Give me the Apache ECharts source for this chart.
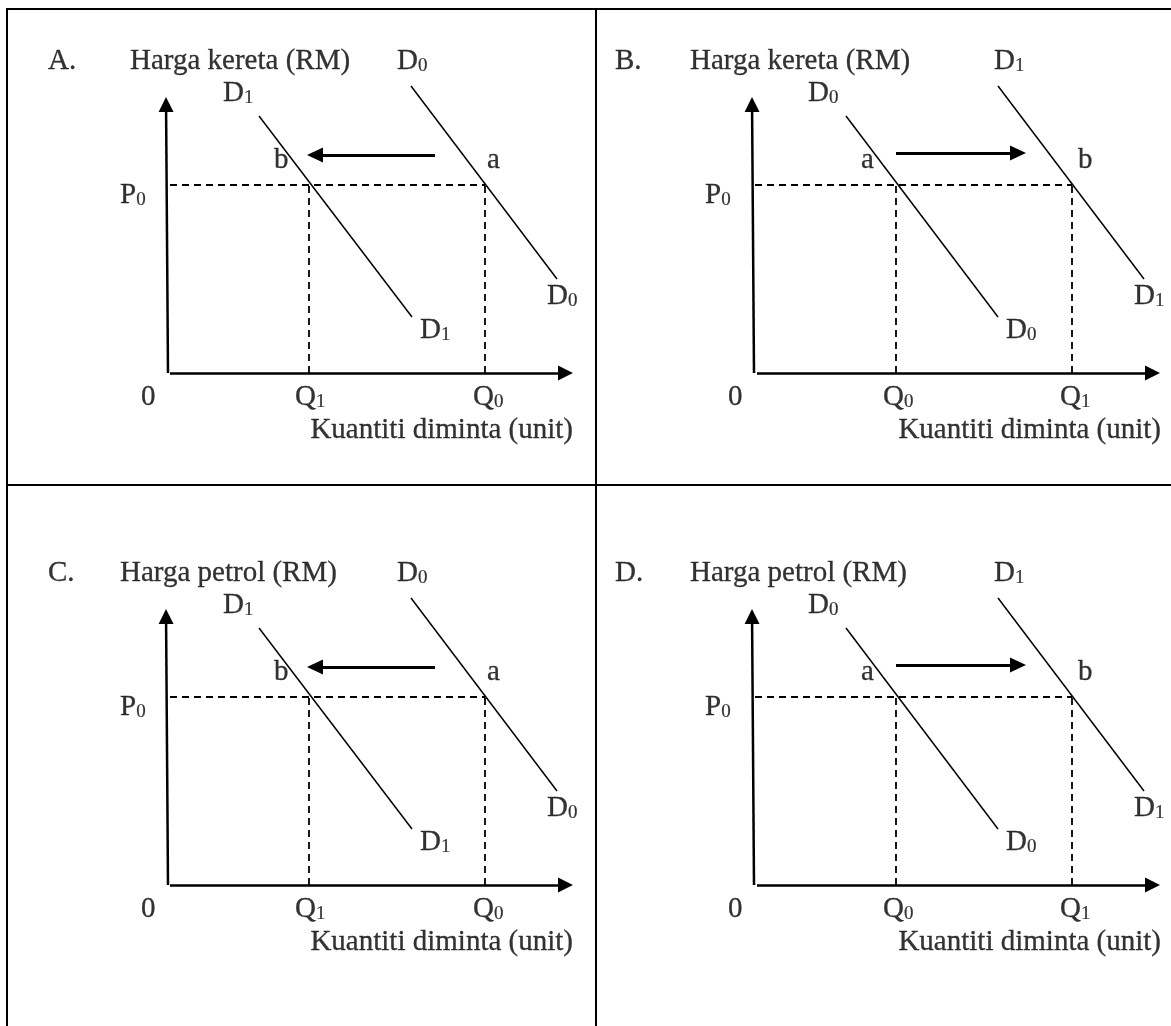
<!DOCTYPE html>
<html>
<head>
<meta charset="utf-8">
<script src="https://cdn.jsdelivr.net/npm/echarts@6/dist/echarts.min.js"></script>
<style>
html,body{margin:0;padding:0;background:#fff;}
#c{width:1171px;height:1026px;}
</style>
</head>
<body>
<div id="c"></div>
<script>
// ---------- DATA (chart units: origin of each diagram = (0,0), 1 unit ~ 1 px) ----------
const cellLetters = ['A.', 'B.', 'C.', 'D.'];
const cellTitles = ['Harga kereta (RM)', 'Harga kereta (RM)', 'Harga petrol (RM)', 'Harga petrol (RM)'];
const cellKinds = ['left', 'right', 'left', 'right'];
const letterX = [-120, -138, -120, -138];
const titleX = [-38, -63, -48, -63];
const headY = 302;
const priceP0 = 188;
const axisNameText = 'Kuantiti diminta (unit)';

// Demand shifts left (A, C)
const leftYAxis = [[0, 0], [-2, 276]];
const leftXAxis = [[2, 0], [405, 0]];
const leftD0 = [[243, 287], [389, 94]];
const leftD1 = [[91, 257], [244, 56]];
const leftQ = [141, 317];
const leftShift = [[267, 218], [139, 218]];
const leftLabels = [
  [229, 302, 'D', '0'], [55, 270, 'D', '1'], [106, 203, 'b', ''], [319, 203, 'a', ''],
  [-48, 168, 'P', '0'], [252, 33, 'D', '1'], [379, 67, 'D', '0'],
  [-27, -34, '0', ''], [127, -34, 'Q', '1'], [305, -34, 'Q', '0']
];
const leftAxisName = [405, -67];

// Demand shifts right (B, D)
const rightYAxis = [[1, 0], [-1, 276]];
const rightXAxis = [[4, 0], [407, 0]];
const rightD0 = [[93, 257], [245, 56]];
const rightD1 = [[245, 287], [391, 94]];
const rightQ = [143, 319];
const rightShift = [[143, 220], [273, 220]];
const rightLabels = [
  [241, 302, 'D', '1'], [55, 270, 'D', '0'], [108, 203, 'a', ''], [325, 203, 'b', ''],
  [-48, 168, 'P', '0'], [253, 33, 'D', '0'], [381, 67, 'D', '1'],
  [-25, -34, '0', ''], [130, -34, 'Q', '0'], [307, -34, 'Q', '1']
];
const rightAxisName = [408, -67];

// ---------- LAYOUT ----------
const cells = [
  {left: 7,   top: 9,   width: 589, height: 476, ox: 168, oy: 373},
  {left: 596, top: 9,   width: 575, height: 476, ox: 753, oy: 373},
  {left: 7,   top: 521, width: 589, height: 476, ox: 168, oy: 885},
  {left: 596, top: 521, width: 575, height: 476, ox: 753, oy: 885}
];
const FONT = "'Liberation Serif', 'Times New Roman', serif";
const rich = {
  m: {fontSize: 29, fontFamily: FONT, color: '#000', textBorderColor: '#000', textBorderWidth: 0.3},
  s: {fontSize: 19, fontFamily: FONT, color: '#000', textBorderColor: '#000', textBorderWidth: 0.2, verticalAlign: 'bottom'}
};

function tipAdjust(start, tip, len) {
  const dx = tip[0] - start[0], dy = tip[1] - start[1];
  const d = Math.hypot(dx, dy);
  return [tip[0] - dx / d * len / 2, tip[1] - dy / d * len / 2];
}

const grids = [], xAxes = [], yAxes = [], series = [];
cells.forEach((c, i) => {
  grids.push({left: c.left, top: c.top, width: c.width, height: c.height, containLabel: false, show: false});
  xAxes.push({type: 'value', gridIndex: i, min: c.left - c.ox, max: c.left + c.width - c.ox, show: false});
  yAxes.push({type: 'value', gridIndex: i, min: c.oy - (c.top + c.height), max: c.oy - c.top, show: false});

  const L = cellKinds[i] === 'left';
  const D0 = L ? leftD0 : rightD0;
  const D1 = L ? leftD1 : rightD1;
  const Q = L ? leftQ : rightQ;
  const shift = L ? leftShift : rightShift;
  const labels = L ? leftLabels : rightLabels;
  const axName = L ? leftAxisName : rightAxisName;
  const yAx = L ? leftYAxis : rightYAxis;
  const xAx = L ? leftXAxis : rightXAxis;

  const solid = {color: '#000', width: 1.5};
  const dashed = {color: '#000', width: 1.8, type: [7, 5]};
  const base = {xAxisIndex: i, yAxisIndex: i, silent: true, symbol: 'none', animation: false};

  series.push(Object.assign({type: 'line', data: D0, lineStyle: solid}, base));
  series.push(Object.assign({type: 'line', data: D1, lineStyle: solid}, base));
  const qMax = Math.max(Q[0], Q[1]);
  series.push(Object.assign({type: 'line', data: [[2, priceP0], [qMax, priceP0]], lineStyle: dashed}, base));
  Q.forEach(q => {
    series.push(Object.assign({type: 'line', data: [[q, 0], [q, priceP0]], lineStyle: dashed}, base));
  });

  const items = [];
  items.push({value: [letterX[i], headY], main: cellLetters[i], sub: ''});
  items.push({value: [titleX[i], headY], main: cellTitles[i], sub: ''});
  labels.forEach(l => items.push({value: [l[0], l[1]], main: l[2], sub: l[3]}));
  items.push({value: [axName[0], axName[1]], main: axisNameText, sub: '', label: {align: 'right'}});

  series.push({
    type: 'scatter', xAxisIndex: i, yAxisIndex: i, silent: true, animation: false,
    symbolSize: 1, itemStyle: {color: 'rgba(0,0,0,0)'},
    label: {
      show: true, position: 'inside', align: 'left', verticalAlign: 'middle', offset: [0, -10],
      color: '#000',
      formatter: p => '{m|' + p.data.main + '}' + (p.data.sub ? '{s|' + p.data.sub + '}' : ''),
      rich: rich
    },
    data: items,
    markLine: {
      silent: true, animation: false,
      symbol: ['none', 'triangle'], symbolSize: [15, 15],
      label: {show: false},
      lineStyle: {type: 'solid', color: '#000', width: 2.5},
      data: [
        [{coord: yAx[0]}, {coord: tipAdjust(yAx[0], yAx[1], 15)}],
        [{coord: xAx[0]}, {coord: tipAdjust(xAx[0], xAx[1], 15)}],
        [{coord: shift[0], lineStyle: {width: 2.8, type: 'solid', color: '#000'}},
         {coord: tipAdjust(shift[0], shift[1], 16), symbolSize: [15, 16]}]
      ]
    }
  });
});

const frameStyle = {stroke: '#000', lineWidth: 2};
const chart = echarts.init(document.getElementById('c'), null, {renderer: 'canvas'});
chart.setOption({
  animation: false,
  backgroundColor: '#fff',
  grid: grids,
  xAxis: xAxes,
  yAxis: yAxes,
  series: series,
  graphic: [
    {type: 'line', shape: {x1: 6, y1: 9, x2: 1171, y2: 9}, style: frameStyle, silent: true},
    {type: 'line', shape: {x1: 7, y1: 8, x2: 7, y2: 1026}, style: frameStyle, silent: true},
    {type: 'line', shape: {x1: 596, y1: 8, x2: 596, y2: 1026}, style: frameStyle, silent: true},
    {type: 'line', shape: {x1: 6, y1: 485, x2: 1171, y2: 485}, style: frameStyle, silent: true}
  ]
});
</script>
</body>
</html>
